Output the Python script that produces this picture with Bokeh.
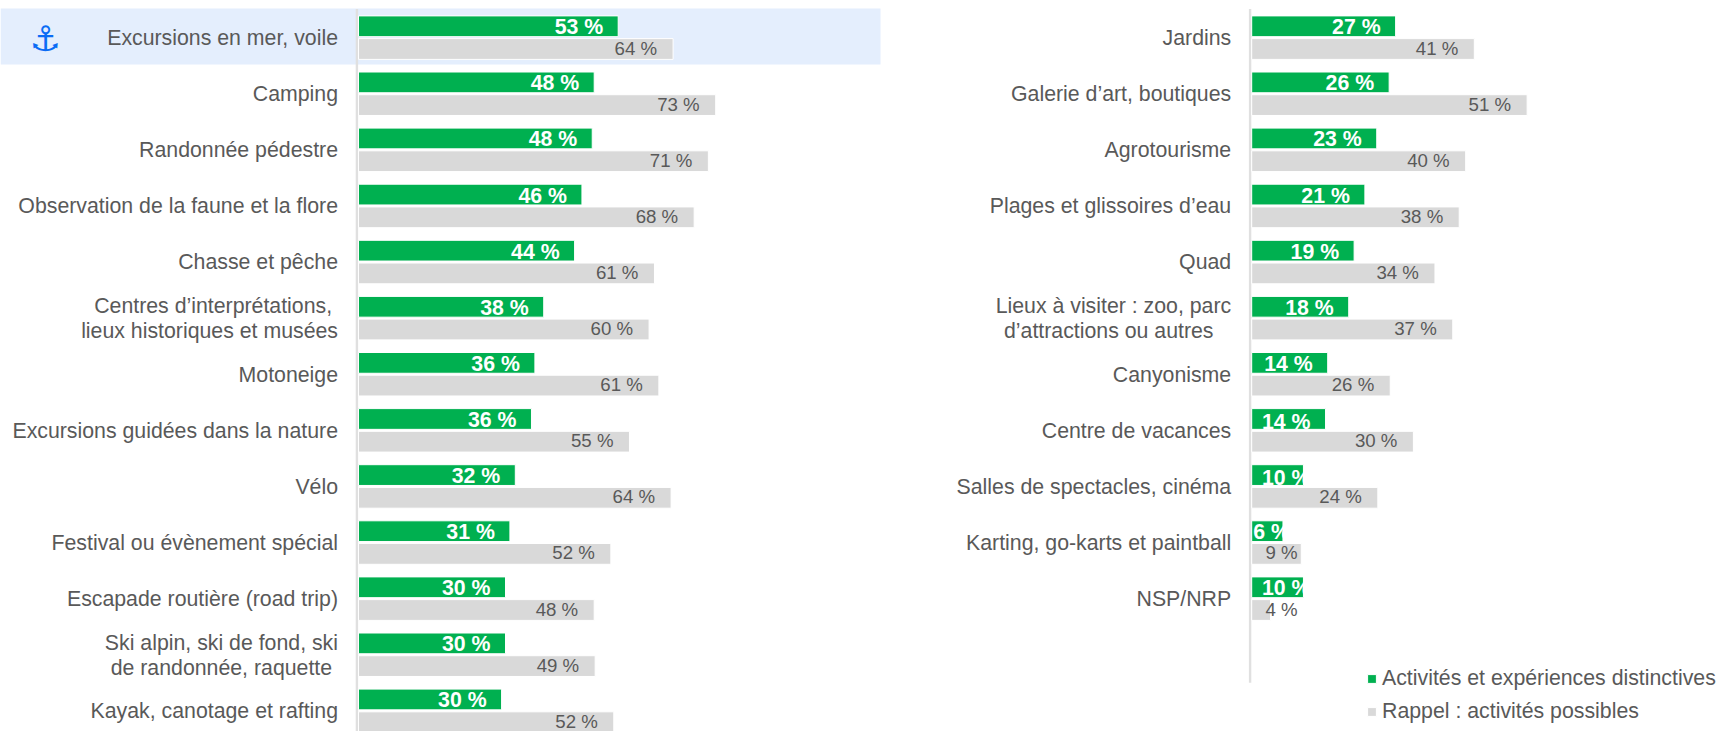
from bokeh.plotting import figure
from bokeh.models import Range1d, Legend, LegendItem, BoxAnnotation
from bokeh.core.properties import value
from bokeh.embed import file_html
from bokeh.resources import INLINE

left_labels = ["Excursions en mer, voile", "Camping", "Randonnée pédestre",
               "Observation de la faune et la flore", "Chasse et pêche",
               "Centres d’interprétations, \nlieux historiques et musées", "Motoneige",
               "Excursions guidées dans la nature", "Vélo", "Festival ou évènement spécial",
               "Escapade routière (road trip)", "Ski alpin, ski de fond, ski\nde randonnée, raquette ",
               "Kayak, canotage et rafting"]
left_green = [53.0, 48.1, 47.7, 45.6, 44.1, 37.8, 36.0, 35.3, 32.0, 30.9, 30.0, 30.0, 29.2]
left_grey = [64.2, 72.9, 71.4, 68.5, 60.4, 59.3, 61.3, 55.3, 63.8, 51.5, 48.1, 48.3, 52.1]
left_green_txt = ["53 %", "48 %", "48 %", "46 %", "44 %", "38 %", "36 %", "36 %", "32 %", "31 %", "30 %", "30 %", "30 %"]
left_grey_txt = ["64 %", "73 %", "71 %", "68 %", "61 %", "60 %", "61 %", "55 %", "64 %", "52 %", "48 %", "49 %", "52 %"]

right_labels = ["Jardins", "Galerie d’art, boutiques", "Agrotourisme", "Plages et glissoires d’eau",
                "Quad", "Lieux à visiter : zoo, parc\nd’attractions ou autres   ", "Canyonisme",
                "Centre de vacances", "Salles de spectacles, cinéma", "Karting, go-karts et paintball", "NSP/NRP"]
right_green = [26.7, 25.5, 23.2, 21.0, 19.0, 18.0, 14.1, 13.7, 9.6, 5.8, 9.6]
right_grey = [41.3, 51.1, 39.7, 38.5, 34.0, 37.3, 25.7, 30.0, 23.4, 9.2, 3.5]
right_green_txt = ["27 %", "26 %", "23 %", "21 %", "19 %", "18 %", "14 %", "14 %", "10 %", "6 %", "10 %"]
right_grey_txt = ["41 %", "51 %", "40 %", "38 %", "34 %", "37 %", "26 %", "30 %", "24 %", "9 %", "4 %"]

legend_names = ["Activités et expériences distinctives", "Rappel : activités possibles"]

W, H = 1719, 731
LX0, LS = 358.0, 4.9
RX0, RS = 1251.2, 5.39
Y0, DY = 37.0, 56.1
GREEN, GREY, TXT = "#00B050", "#D9D9D9", "#595959"
FONT = value("Liberation Sans")
CAT_SIZE, SPACE_W, LINE_H = "21.3px", 5.9, 25.0
LOW_LABELS = ("Centre de vacances", "Salles de spectacles, cinéma")  # value sits a little lower in its bar

p = figure(width=W, height=H, output_backend="svg", toolbar_location=None,
           x_range=Range1d(-LX0 / LS, (W - LX0) / LS),
           y_range=Range1d((H - Y0) / DY, -Y0 / DY),
           min_border=0, outline_line_color=None)
p.styles = {"position": "absolute", "left": "0px", "top": "0px"}
p.extra_x_ranges = {"r": Range1d(-RX0 / RS, (W - RX0) / RS)}
p.xaxis.visible = False
p.yaxis.visible = False
p.grid.visible = False
p.background_fill_color = "white"
p.border_fill_color = "white"

# highlighted first row
p.add_layout(BoxAnnotation(left=-LX0 / LS, right=(880 - LX0) / LS, top=-29 / DY, bottom=27 / DY,
                           fill_color="#E4EEFD", fill_alpha=1, line_color=None, level="underlay"))
p.text(x=[(45 - LX0) / LS], y=[1 / DY], text=["\u2693"], text_color="#0A6CF5", text_font=value("DejaVu Sans"),
       text_font_style="bold", text_font_size="35px", text_align="center", text_baseline="middle")


def panel(labels, green, grey, gtxt, ytxt, rng, scale, bottom_row):
    kw = {"x_range_name": rng} if rng != "default" else {}
    rows = list(range(len(labels)))
    p.quad(left=[-2.8 / scale], right=[-0.4 / scale], top=[-28.5 / DY], bottom=[bottom_row],
           fill_color="#E0E0E0", line_color=None, **kw)
    g = p.hbar(y=[r - 0.2 for r in rows], left=0, right=green, height=0.37, fill_color=GREEN,
               line_color="white", line_width=1, **kw)
    # value labels of the short bars run past the bar end, in white, and vanish there
    gx = [(v - 15 / scale) if v > 12 else (v + 7 / scale) for v in green]
    gy = [r - 0.2 + (3 if labels[r] in LOW_LABELS else 1) / DY for r in rows]
    p.text(x=gx, y=gy, text=gtxt, text_color="white", text_font=FONT,
           text_font_style="bold", text_font_size="21.3px", text_align="right", text_baseline="middle", **kw)
    # grey bars drawn after the green labels, which they may trim
    e = p.hbar(y=[r + 0.205 for r in rows], left=0, right=grey, height=0.37, fill_color=GREY,
               line_color="white", line_width=1, **kw)
    ex = [max(v - 16 / scale, 46 / scale) for v in grey]
    p.text(x=ex, y=[r + 0.205 - 1 / DY for r in rows], text=ytxt, text_color=TXT, text_font=FONT,
           text_font_size="18.67px", text_align="right", text_baseline="middle", **kw)
    # category labels, one text per line; trailing spaces push a line to the left
    cx, cy, ct = [], [], []
    for r, t in enumerate(labels):
        parts = t.split("\n")
        for i, part in enumerate(parts):
            trail = len(part) - len(part.rstrip(" "))
            cx.append((-20.5 - trail * SPACE_W) / scale)
            cy.append(r + (0.5 + (i - (len(parts) - 1) / 2) * LINE_H) / DY)
            ct.append(part.rstrip(" "))
    p.text(x=cx, y=cy, text=ct, text_color=TXT, text_font=FONT,
           text_font_size=CAT_SIZE, text_align="right", text_baseline="middle", **kw)
    return g, e


g, e = panel(left_labels, left_green, left_grey, left_green_txt, left_grey_txt, "default", LS, (H - Y0) / DY)
panel(right_labels, right_green, right_grey, right_green_txt, right_grey_txt, "r", RS, 11.5)

legend = Legend(items=[LegendItem(label=legend_names[0], renderers=[g]),
                       LegendItem(label=legend_names[1], renderers=[e])],
                location=(1366, 7), orientation="vertical", padding=0, margin=0, spacing=8,
                border_line_color=None, background_fill_alpha=0,
                glyph_width=11, glyph_height=11, label_standoff=5,
                label_text_font="Liberation Sans", label_text_font_size=CAT_SIZE, label_text_color=TXT)
p.add_layout(legend, "center")

open("out.html", "w").write(file_html(p, INLINE))
